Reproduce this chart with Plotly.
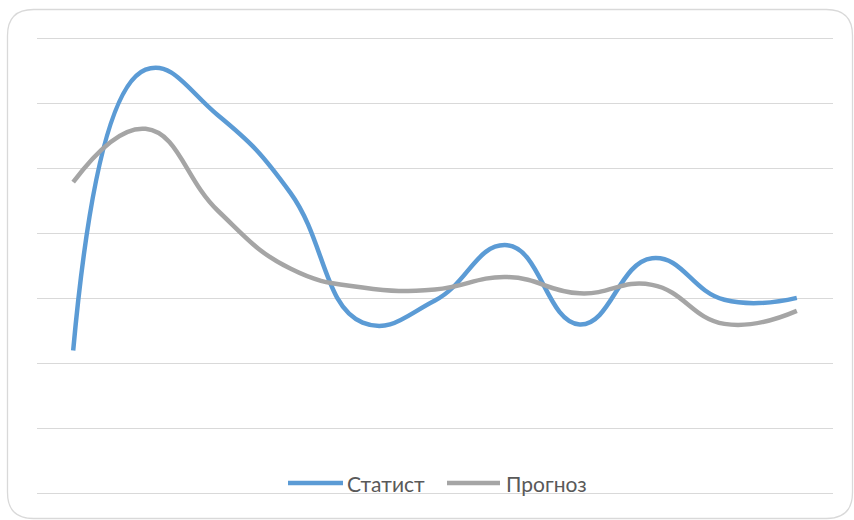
import plotly.graph_objects as go

# Periods along the horizontal axis (labels are not shown on the chart)
periods = list(range(1, 12))

series_names = ["Статист", "Прогноз"]
statist = [2.20, 6.52, 5.82, 4.63, 2.63, 2.97, 3.82, 2.60, 3.62, 2.98, 3.01]
prognoz = [4.79, 5.61, 4.35, 3.46, 3.17, 3.14, 3.33, 3.08, 3.21, 2.61, 2.81]
series_colors = ["#5B9BD5", "#A5A5A5"]

W, H = 854, 520
M_L, M_R, M_T, M_B = 37, 21, 32, 20
Y_RANGE = [-0.1, 7.1]
plot_w = W - M_L - M_R
plot_h = H - M_T - M_B


def px_to_paper(x, y):
    """Convert page pixel coordinates to paper coordinates."""
    return (x - M_L) / plot_w, (H - M_B - y) / plot_h


fig = go.Figure()
for name, vals, color in zip(series_names, [statist, prognoz], series_colors):
    fig.add_trace(go.Scatter(
        x=periods, y=vals, name=name, mode="lines",
        line=dict(color=color, width=4.5, shape="spline", smoothing=1.3),
        showlegend=False, hoverinfo="x+y+name",
    ))

shapes = []

# Rounded outer frame of the chart area
x0, y0, x1, y1, r = 7.5, 9.5, 852.5, 518.5, 26


def pt(x, y):
    px, py = px_to_paper(x, y)
    return f"{px:.5f},{py:.5f}"


frame = (
    f"M {pt(x0 + r, y0)} L {pt(x1 - r, y0)} "
    f"Q {pt(x1, y0)} {pt(x1, y0 + r)} L {pt(x1, y1 - r)} "
    f"Q {pt(x1, y1)} {pt(x1 - r, y1)} L {pt(x0 + r, y1)} "
    f"Q {pt(x0, y1)} {pt(x0, y1 - r)} L {pt(x0, y0 + r)} "
    f"Q {pt(x0, y0)} {pt(x0 + r, y0)} Z"
)
shapes.append(dict(type="path", path=frame, xref="paper", yref="paper",
                   line=dict(color="#D9D9D9", width=1.3), layer="below"))

# Legend entries drawn under the plot
legend_items = [(288, 343, 347), (447, 500, 506)]
legend_y = 483
annotations = []
for (lx0, lx1, tx), name, color in zip(legend_items, series_names, series_colors):
    ax0, ay = px_to_paper(lx0, legend_y)
    ax1, _ = px_to_paper(lx1, legend_y)
    shapes.append(dict(type="line", xref="paper", yref="paper",
                       x0=ax0, x1=ax1, y0=ay, y1=ay,
                       line=dict(color=color, width=4.5)))
    tx_p, _ = px_to_paper(tx, legend_y)
    annotations.append(dict(x=tx_p, y=ay, xref="paper", yref="paper",
                            text=name, showarrow=False, xanchor="left",
                            yanchor="middle", xshift=-2,
                            font=dict(family="Lato, sans-serif", size=21,
                                      color="#595959")))

fig.update_layout(
    width=W, height=H,
    margin=dict(l=M_L, r=M_R, t=M_T, b=M_B),
    paper_bgcolor="white", plot_bgcolor="white",
    xaxis=dict(range=[0.5, 11.5], showgrid=False, zeroline=False,
               showticklabels=False, ticks="", showline=False, fixedrange=True),
    yaxis=dict(range=Y_RANGE, dtick=1, tick0=0, showgrid=True,
               gridcolor="#D9D9D9", gridwidth=1.2, zeroline=False,
               showticklabels=False, ticks="", showline=False, fixedrange=True),
    shapes=shapes,
    annotations=annotations,
    showlegend=False,
)

fig.write_html("out.html")
